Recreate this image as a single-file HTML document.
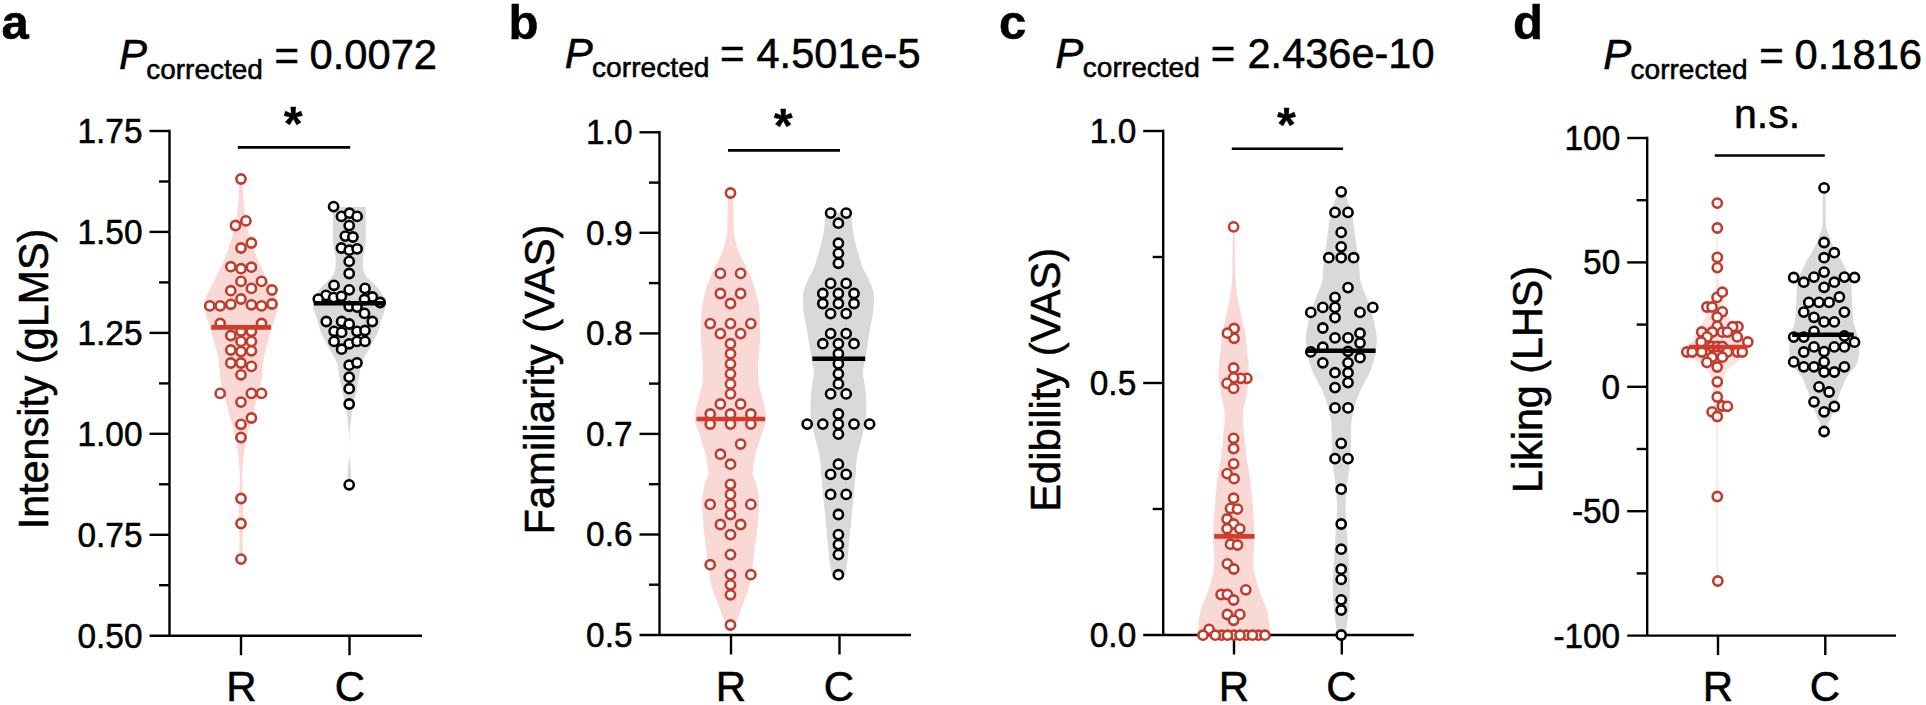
<!DOCTYPE html>
<html lang="en"><head><meta charset="utf-8"><title>Violin plots: R vs C ratings</title>
<style>html,body{margin:0;padding:0;background:#fff}body{width:1926px;height:705px;overflow:hidden}svg{display:block}text{font-family:'Liberation Sans', Arial, Helvetica, sans-serif;fill:#000;stroke:#000;stroke-width:0.55px;stroke-linejoin:round}</style></head><body>
<svg width="1926" height="705" viewBox="0 0 1926 705">
<rect width="1926" height="705" fill="#fff"/>
<g id="panel-a">
<text x="1.5" y="38.8" font-size="49" text-anchor="start" font-weight="bold" font-style="normal">a</text>
<text x="119" y="69.4" font-size="42" text-anchor="start" font-weight="normal" font-style="italic">P</text>
<text x="146.3" y="78.8" font-size="28.5" text-anchor="start" font-weight="normal" font-style="normal" textLength="116.5" lengthAdjust="spacingAndGlyphs">corrected</text>
<text x="274.5" y="70.2" font-size="42" text-anchor="start" font-weight="normal" font-style="normal">=</text>
<text x="309.5" y="69.4" font-size="42" text-anchor="start" font-weight="normal" font-style="normal" textLength="127.5" lengthAdjust="spacingAndGlyphs">0.0072</text>
<text transform="translate(47.6 379) rotate(-90)" font-size="43" text-anchor="middle" textLength="300.5" lengthAdjust="spacingAndGlyphs">Intensity (gLMS)</text>
<path d="M240.5 179 L240.1 181 L239.8 183 L239.5 185 L239.3 187 L239.2 189 L239 191 L238.9 193 L238.8 195 L238.7 197 L238.6 199 L238.4 201 L238.2 203 L238 205 L237.8 207 L237.6 209 L237.3 211 L237.1 213 L236.8 215 L236.5 217 L236.2 219 L235.8 221 L235.5 223 L235.1 225 L234.7 227 L234.2 229 L233.8 231 L233.2 233 L232.7 235 L232.1 237 L231.5 239 L230.8 241 L230.2 243 L229.5 245 L228.8 247 L228.2 249 L227.5 251 L226.8 253 L226 255 L225.3 257 L224.5 259 L223.7 261 L222.8 263 L221.9 265 L220.9 267 L219.9 269 L219 271 L218 273 L217 275 L216 277 L215 279 L214 281 L213 283 L212 285 L211 287 L210 289 L209 291 L208 293 L207 295 L206 297 L205.3 299 L204.8 301 L204.3 303 L204 305 L204 307 L204.3 309 L204.8 311 L205.4 313 L206 315 L206.6 317 L207.2 319 L207.9 321 L208.7 323 L209.4 325 L210 327 L210.6 329 L211.2 331 L211.8 333 L212.3 335 L212.9 337 L213.4 339 L214 341 L214.5 343 L215 345 L215.5 347 L216 349 L216.6 351 L217.1 353 L217.6 355 L218 357 L218.3 359 L218.6 361 L218.9 363 L219.1 365 L219.3 367 L219.4 369 L219.6 371 L219.7 373 L219.9 375 L220.1 377 L220.4 379 L220.7 381 L221 383 L221.4 385 L221.9 387 L222.4 389 L223 391 L223.5 393 L224 395 L224.5 397 L225 399 L225.5 401 L226.1 403 L226.6 405 L227.1 407 L227.7 409 L228.2 411 L228.8 413 L229.3 415 L229.9 417 L230.5 419 L231.1 421 L231.6 423 L232.2 425 L232.7 427 L233.3 429 L233.8 431 L234.3 433 L234.8 435 L235.3 437 L235.7 439 L236.1 441 L236.5 443 L236.8 445 L237.2 447 L237.5 449 L237.8 451 L238.1 453 L238.3 455 L238.5 457 L238.7 459 L238.9 461 L239 463 L239.2 465 L239.3 467 L239.5 469 L239.6 471 L239.7 473 L239.8 475 L239.8 477 L239.8 479 L239.8 481 L239.7 483 L239.6 485 L239.5 487 L239.4 489 L239.3 491 L239.2 493 L239.2 495 L239.1 497 L239.1 499 L239.1 501 L239 503 L239 505 L239 507 L239 509 L239 511 L238.9 513 L238.9 515 L238.9 517 L238.9 519 L238.9 521 L238.9 523 L238.9 525 L239 527 L239.1 529 L239.2 531 L239.2 533 L239.3 535 L239.4 537 L239.5 539 L239.5 541 L239.5 543 L239.4 545 L239.4 547 L239.3 549 L239.3 551 L239.2 553 L239.2 555 L239.5 557 L240.2 559 L240.5 560 L241.5 560 L241.8 559 L242.5 557 L242.8 555 L242.8 553 L242.7 551 L242.7 549 L242.6 547 L242.6 545 L242.5 543 L242.5 541 L242.5 539 L242.6 537 L242.7 535 L242.8 533 L242.8 531 L242.9 529 L243 527 L243.1 525 L243.1 523 L243.1 521 L243.1 519 L243.1 517 L243.1 515 L243.1 513 L243 511 L243 509 L243 507 L243 505 L243 503 L242.9 501 L242.9 499 L242.9 497 L242.8 495 L242.8 493 L242.7 491 L242.6 489 L242.5 487 L242.4 485 L242.3 483 L242.2 481 L242.2 479 L242.2 477 L242.2 475 L242.3 473 L242.4 471 L242.5 469 L242.7 467 L242.8 465 L243 463 L243.1 461 L243.3 459 L243.5 457 L243.7 455 L243.9 453 L244.2 451 L244.5 449 L244.8 447 L245.2 445 L245.5 443 L245.9 441 L246.3 439 L246.7 437 L247.2 435 L247.7 433 L248.2 431 L248.7 429 L249.3 427 L249.8 425 L250.4 423 L250.9 421 L251.5 419 L252.1 417 L252.7 415 L253.2 413 L253.8 411 L254.3 409 L254.9 407 L255.4 405 L255.9 403 L256.5 401 L257 399 L257.5 397 L258 395 L258.5 393 L259 391 L259.6 389 L260.1 387 L260.6 385 L261 383 L261.3 381 L261.6 379 L261.9 377 L262.1 375 L262.3 373 L262.4 371 L262.6 369 L262.7 367 L262.9 365 L263.1 363 L263.4 361 L263.7 359 L264 357 L264.4 355 L264.9 353 L265.4 351 L266 349 L266.5 347 L267 345 L267.5 343 L268 341 L268.6 339 L269.1 337 L269.7 335 L270.2 333 L270.8 331 L271.4 329 L272 327 L272.6 325 L273.3 323 L274.1 321 L274.8 319 L275.4 317 L276 315 L276.6 313 L277.2 311 L277.7 309 L278 307 L278 305 L277.7 303 L277.2 301 L276.7 299 L276 297 L275 295 L274 293 L273 291 L272 289 L271 287 L270 285 L269 283 L268 281 L267 279 L266 277 L265 275 L264 273 L263 271 L262.1 269 L261.1 267 L260.1 265 L259.2 263 L258.3 261 L257.5 259 L256.7 257 L256 255 L255.2 253 L254.5 251 L253.8 249 L253.2 247 L252.5 245 L251.8 243 L251.2 241 L250.5 239 L249.9 237 L249.3 235 L248.8 233 L248.2 231 L247.8 229 L247.3 227 L246.9 225 L246.5 223 L246.2 221 L245.8 219 L245.5 217 L245.2 215 L244.9 213 L244.7 211 L244.4 209 L244.2 207 L244 205 L243.8 203 L243.6 201 L243.4 199 L243.3 197 L243.2 195 L243.1 193 L243 191 L242.8 189 L242.7 187 L242.5 185 L242.2 183 L241.9 181 L241.5 179Z" fill="#f9d9d5"/>
<path d="M332.9 207 L332.9 209 L332.9 211 L332.9 213 L332.9 215 L332.9 217 L332.9 219 L332.9 221 L332.9 223 L332.9 225 L332.9 227 L332.9 229 L332.9 231 L332.9 233 L332.9 235 L332.9 237 L332.9 239 L332.9 241 L333 243 L333.3 245 L333.7 247 L334.1 249 L334.5 251 L334.9 253 L335.4 255 L335.7 257 L335.7 259 L335.7 261 L335.6 263 L335.6 265 L335.5 267 L335.3 269 L334.8 271 L334.1 273 L333.3 275 L332 277 L330 279 L327.8 281 L325.6 283 L323.7 285 L321.8 287 L320.1 289 L318.5 291 L317.2 293 L315.9 295 L314.8 297 L314 299 L313.7 301 L313.4 303 L313.3 305 L313.3 307 L313.6 309 L314.1 311 L314.7 313 L315.5 315 L316.3 317 L317 319 L317.7 321 L318.2 323 L318.7 325 L319.2 327 L319.7 329 L320.3 331 L321.1 333 L322.1 335 L323.1 337 L324.2 339 L325.3 341 L326.3 343 L327.4 345 L328.4 347 L329.5 349 L330.6 351 L331.8 353 L333 355 L334.3 357 L335.3 359 L336.2 361 L337 363 L337.6 365 L338.1 367 L338.4 369 L338.6 371 L338.8 373 L339.1 375 L339.4 377 L339.8 379 L340.2 381 L340.6 383 L341 385 L341.4 387 L341.9 389 L342.3 391 L342.7 393 L343.1 395 L343.5 397 L343.9 399 L344.3 401 L344.7 403 L345.1 405 L345.5 407 L345.9 409 L346.3 411 L346.7 413 L347 415 L347.3 417 L347.6 419 L347.8 421 L348 423 L348.2 425 L348.4 427 L348.6 429 L348.7 431 L348.9 433 L349 435 L349.1 437 L349.2 439 L349.2 441 L349.2 443 L349.2 445 L349.2 447 L349.2 449 L349.2 451 L349.2 453 L349.2 455 L349.1 457 L348.9 459 L348.7 461 L348.5 463 L348.3 465 L348.1 467 L347.9 469 L347.8 471 L347.6 473 L347.6 475 L347.6 477 L347.6 479 L347.6 481 L347.7 483 L347.7 485 L350.9 485 L350.9 483 L351 481 L351 479 L351 477 L351 475 L351 473 L350.8 471 L350.7 469 L350.5 467 L350.3 465 L350.1 463 L349.9 461 L349.7 459 L349.5 457 L349.4 455 L349.4 453 L349.4 451 L349.4 449 L349.4 447 L349.4 445 L349.4 443 L349.4 441 L349.4 439 L349.5 437 L349.6 435 L349.7 433 L349.9 431 L350 429 L350.2 427 L350.4 425 L350.6 423 L350.8 421 L351 419 L351.3 417 L351.6 415 L351.9 413 L352.3 411 L352.7 409 L353.1 407 L353.5 405 L353.9 403 L354.3 401 L354.7 399 L355.1 397 L355.5 395 L355.9 393 L356.3 391 L356.7 389 L357.2 387 L357.6 385 L358 383 L358.4 381 L358.8 379 L359.2 377 L359.5 375 L359.8 373 L360 371 L360.2 369 L360.5 367 L361 365 L361.6 363 L362.4 361 L363.3 359 L364.3 357 L365.6 355 L366.8 353 L368 351 L369.1 349 L370.2 347 L371.2 345 L372.3 343 L373.3 341 L374.4 339 L375.5 337 L376.5 335 L377.5 333 L378.3 331 L378.9 329 L379.4 327 L379.9 325 L380.4 323 L380.9 321 L381.6 319 L382.3 317 L383.1 315 L383.9 313 L384.5 311 L385 309 L385.3 307 L385.3 305 L385.2 303 L384.9 301 L384.6 299 L383.8 297 L382.7 295 L381.4 293 L380.1 291 L378.5 289 L376.8 287 L374.9 285 L373 283 L370.8 281 L368.6 279 L366.6 277 L365.3 275 L364.5 273 L363.8 271 L363.3 269 L363.1 267 L363 265 L363 263 L362.9 261 L362.9 259 L362.9 257 L363.2 255 L363.7 253 L364.1 251 L364.5 249 L364.9 247 L365.3 245 L365.6 243 L365.7 241 L365.7 239 L365.7 237 L365.7 235 L365.7 233 L365.7 231 L365.7 229 L365.7 227 L365.7 225 L365.7 223 L365.7 221 L365.7 219 L365.7 217 L365.7 215 L365.7 213 L365.7 211 L365.7 209 L365.7 207Z" fill="#d9d9d9"/>
<g fill="#fff" stroke="#c23b2c" stroke-width="2.6">
<circle cx="241" cy="179" r="4.6"/>
<circle cx="245.9" cy="220.9" r="4.6"/>
<circle cx="235.5" cy="225.5" r="4.6"/>
<circle cx="251.4" cy="243" r="4.6"/>
<circle cx="241" cy="248" r="4.6"/>
<circle cx="230.8" cy="266.7" r="4.6"/>
<circle cx="241" cy="268.7" r="4.6"/>
<circle cx="251.4" cy="267.2" r="4.6"/>
<circle cx="241" cy="281.4" r="4.6"/>
<circle cx="261.5" cy="281.4" r="4.6"/>
<circle cx="251.4" cy="288.4" r="4.6"/>
<circle cx="230.8" cy="290.7" r="4.6"/>
<circle cx="272" cy="290" r="4.6"/>
<circle cx="241" cy="299" r="4.6"/>
<circle cx="209.8" cy="305.9" r="4.6"/>
<circle cx="220.2" cy="305.9" r="4.6"/>
<circle cx="230.8" cy="304.3" r="4.6"/>
<circle cx="251.4" cy="304.8" r="4.6"/>
<circle cx="261.5" cy="305.9" r="4.6"/>
<circle cx="272" cy="304" r="4.6"/>
<circle cx="220.2" cy="323.5" r="4.6"/>
<circle cx="261.5" cy="323.5" r="4.6"/>
</g>
<g fill="#fff" stroke="#c23b2c" stroke-width="2.6">
<circle cx="241" cy="331" r="4.6"/>
<circle cx="251.4" cy="331.3" r="4.6"/>
<circle cx="230.8" cy="335.5" r="4.6"/>
<circle cx="241" cy="341.4" r="4.6"/>
<circle cx="251.4" cy="341.4" r="4.6"/>
<circle cx="230.8" cy="350" r="4.6"/>
<circle cx="241" cy="351.6" r="4.6"/>
<circle cx="251.4" cy="350.8" r="4.6"/>
<circle cx="230.8" cy="363" r="4.6"/>
<circle cx="241" cy="363" r="4.6"/>
<circle cx="251.4" cy="366.4" r="4.6"/>
<circle cx="241" cy="374.8" r="4.6"/>
<circle cx="220.2" cy="393.4" r="4.6"/>
<circle cx="251.4" cy="393.4" r="4.6"/>
<circle cx="261.5" cy="393.4" r="4.6"/>
<circle cx="241" cy="402.1" r="4.6"/>
<circle cx="251.4" cy="418" r="4.6"/>
<circle cx="241" cy="424.3" r="4.6"/>
<circle cx="241" cy="437.5" r="4.6"/>
<circle cx="241" cy="498.5" r="4.6"/>
<circle cx="241" cy="523.5" r="4.6"/>
<circle cx="241" cy="559.1" r="4.6"/>
</g>
<g fill="#fff" stroke="#000" stroke-width="2.6">
<circle cx="349.2" cy="306.3" r="4.6"/>
<circle cx="357" cy="307.1" r="4.6"/>
<circle cx="364.5" cy="313.4" r="4.6"/>
<circle cx="326.3" cy="321.5" r="4.6"/>
<circle cx="341.6" cy="321.5" r="4.6"/>
<circle cx="349.2" cy="324" r="4.6"/>
<circle cx="372.3" cy="321.5" r="4.6"/>
<circle cx="334.1" cy="331.3" r="4.6"/>
<circle cx="341.6" cy="332.4" r="4.6"/>
<circle cx="357" cy="331.3" r="4.6"/>
<circle cx="365" cy="330.5" r="4.6"/>
<circle cx="334.1" cy="341.4" r="4.6"/>
<circle cx="349.2" cy="343.8" r="4.6"/>
<circle cx="357" cy="341.4" r="4.6"/>
<circle cx="365" cy="341.4" r="4.6"/>
<circle cx="341.6" cy="349.2" r="4.6"/>
<circle cx="349.2" cy="365.2" r="4.6"/>
<circle cx="357" cy="362.8" r="4.6"/>
<circle cx="349.2" cy="377.2" r="4.6"/>
<circle cx="349.2" cy="388.7" r="4.6"/>
<circle cx="349.2" cy="404" r="4.6"/>
<circle cx="349.2" cy="484.8" r="4.6"/>
</g>
<g fill="#fff" stroke="#000" stroke-width="2.6">
<circle cx="333.6" cy="206.6" r="4.6"/>
<circle cx="341.5" cy="216.4" r="4.6"/>
<circle cx="349.5" cy="213.2" r="4.6"/>
<circle cx="357.1" cy="216.4" r="4.6"/>
<circle cx="349.2" cy="225.6" r="4.6"/>
<circle cx="345.3" cy="236.1" r="4.6"/>
<circle cx="352.9" cy="237" r="4.6"/>
<circle cx="341.4" cy="248" r="4.6"/>
<circle cx="349.3" cy="250.2" r="4.6"/>
<circle cx="357.1" cy="248.8" r="4.6"/>
<circle cx="349.2" cy="261.4" r="4.6"/>
<circle cx="349.2" cy="273.5" r="4.6"/>
<circle cx="334" cy="285.3" r="4.6"/>
<circle cx="349.2" cy="289.8" r="4.6"/>
<circle cx="365" cy="288.4" r="4.6"/>
<circle cx="326" cy="295.4" r="4.6"/>
<circle cx="333.6" cy="297.6" r="4.6"/>
<circle cx="341.4" cy="296.3" r="4.6"/>
<circle cx="372.4" cy="297" r="4.6"/>
<circle cx="318.3" cy="299.1" r="4.6"/>
<circle cx="364.5" cy="299.5" r="4.6"/>
<circle cx="380.2" cy="302.5" r="4.6"/>
</g>
<line x1="211.2" y1="327.4" x2="271" y2="327.4" stroke="#d63a2b" stroke-width="4.6"/>
<line x1="313.8" y1="303.2" x2="384" y2="303.2" stroke="#000" stroke-width="4.6"/>
<g stroke="#000" stroke-width="2.4" stroke-linecap="butt" fill="none">
<path d="M169.5 129.8 V635.7"/>
<path d="M149.5 635.7 H422"/>
<path d="M149.5 131 H169.5"/>
<path d="M159 181.5 H169.5"/>
<path d="M149.5 231.9 H169.5"/>
<path d="M159 282.4 H169.5"/>
<path d="M149.5 332.9 H169.5"/>
<path d="M159 383.4 H169.5"/>
<path d="M149.5 433.8 H169.5"/>
<path d="M159 484.3 H169.5"/>
<path d="M149.5 534.8 H169.5"/>
<path d="M159 585.2 H169.5"/>
<path d="M241 635.7 V655.2"/>
<path d="M349.5 635.7 V655.2"/>
</g>
<text x="142.5" y="142.9" font-size="35" text-anchor="end" font-weight="normal" font-style="normal" textLength="65" lengthAdjust="spacingAndGlyphs">1.75</text>
<text x="142.5" y="243.8" font-size="35" text-anchor="end" font-weight="normal" font-style="normal" textLength="65" lengthAdjust="spacingAndGlyphs">1.50</text>
<text x="142.5" y="344.8" font-size="35" text-anchor="end" font-weight="normal" font-style="normal" textLength="65" lengthAdjust="spacingAndGlyphs">1.25</text>
<text x="142.5" y="445.7" font-size="35" text-anchor="end" font-weight="normal" font-style="normal" textLength="65" lengthAdjust="spacingAndGlyphs">1.00</text>
<text x="142.5" y="546.7" font-size="35" text-anchor="end" font-weight="normal" font-style="normal" textLength="65" lengthAdjust="spacingAndGlyphs">0.75</text>
<text x="142.5" y="647.6" font-size="35" text-anchor="end" font-weight="normal" font-style="normal" textLength="65" lengthAdjust="spacingAndGlyphs">0.50</text>
<text x="241.5" y="701" font-size="42" text-anchor="middle" font-weight="normal" font-style="normal">R</text>
<text x="350" y="701" font-size="42" text-anchor="middle" font-weight="normal" font-style="normal">C</text>
<line x1="237.8" y1="147.4" x2="350.2" y2="147.4" stroke="#000" stroke-width="2.6"/>
<text x="293.2" y="139.5" font-size="48.5" text-anchor="middle" font-weight="bold" style="stroke-width:0.3px">*</text>
</g>
<g id="panel-b">
<text x="508.5" y="38.8" font-size="49" text-anchor="start" font-weight="bold" font-style="normal">b</text>
<text x="564.8" y="67.6" font-size="42" text-anchor="start" font-weight="normal" font-style="italic">P</text>
<text x="592" y="77" font-size="28.5" text-anchor="start" font-weight="normal" font-style="normal" textLength="117.5" lengthAdjust="spacingAndGlyphs">corrected</text>
<text x="720" y="68.4" font-size="42" text-anchor="start" font-weight="normal" font-style="normal">=</text>
<text x="756.5" y="67.6" font-size="42" text-anchor="start" font-weight="normal" font-style="normal" textLength="164" lengthAdjust="spacingAndGlyphs">4.501e-5</text>
<text transform="translate(554.2 379.6) rotate(-90)" font-size="43" text-anchor="middle" textLength="310" lengthAdjust="spacingAndGlyphs">Familiarity (VAS)</text>
<path d="M730 192 L728.9 194 L728.1 196 L727.8 198 L727.8 200 L727.7 202 L727.6 204 L727.6 206 L727.6 208 L727.5 210 L727.5 212 L727.5 214 L727.5 216 L727.4 218 L727.4 220 L727.4 222 L727.4 224 L727.4 226 L727.3 228 L727.3 230 L727.2 232 L727 234 L726.6 236 L726.2 238 L725.8 240 L725.3 242 L724.8 244 L724.2 246 L723.6 248 L722.9 250 L722.1 252 L721.3 254 L720.4 256 L719.6 258 L718.6 260 L717.6 262 L716.5 264 L715.5 266 L714.5 268 L713.5 270 L712.5 272 L711.5 274 L710.6 276 L709.7 278 L708.9 280 L708.2 282 L707.5 284 L706.9 286 L706.3 288 L705.7 290 L705.2 292 L704.7 294 L704.3 296 L703.8 298 L703.4 300 L702.9 302 L702.5 304 L702.2 306 L701.9 308 L701.6 310 L701.5 312 L701.4 314 L701.3 316 L701.2 318 L701.2 320 L701.1 322 L701.1 324 L701 326 L701 328 L700.9 330 L700.9 332 L700.9 334 L700.9 336 L700.9 338 L701 340 L701.1 342 L701.3 344 L701.4 346 L701.6 348 L701.8 350 L702 352 L702.2 354 L702.3 356 L702.5 358 L702.6 360 L702.7 362 L702.8 364 L702.8 366 L702.8 368 L702.8 370 L702.7 372 L702.7 374 L702.7 376 L702.6 378 L702.5 380 L702.4 382 L702.2 384 L701.8 386 L701.3 388 L700.8 390 L700.3 392 L699.7 394 L699.3 396 L698.7 398 L698.2 400 L697.6 402 L697 404 L696.5 406 L696 408 L695.7 410 L695.5 412 L695.4 414 L695.3 416 L695.2 418 L695.2 420 L695.3 422 L695.7 424 L696.3 426 L697 428 L697.7 430 L698.5 432 L699.2 434 L699.8 436 L700.4 438 L701.1 440 L701.7 442 L702.4 444 L703 446 L703.7 448 L704.3 450 L704.9 452 L705.4 454 L705.9 456 L706.3 458 L706.7 460 L707 462 L707.3 464 L707.6 466 L707.9 468 L708.1 470 L708.3 472 L708.3 474 L707.8 476 L706.8 478 L705.8 480 L705.3 482 L704.8 484 L704.3 486 L703.9 488 L703.5 490 L703.1 492 L702.8 494 L702.5 496 L702.3 498 L702.1 500 L702 502 L702 504 L702 506 L702.1 508 L702.2 510 L702.3 512 L702.4 514 L702.5 516 L702.7 518 L702.9 520 L703.1 522 L703.2 524 L703.4 526 L703.6 528 L703.8 530 L704 532 L704.2 534 L704.5 536 L704.7 538 L705 540 L705.3 542 L705.6 544 L705.8 546 L706.1 548 L706.4 550 L706.6 552 L706.9 554 L707.1 556 L707.4 558 L707.6 560 L707.9 562 L708.1 564 L708.4 566 L708.7 568 L708.9 570 L709.2 572 L709.5 574 L709.8 576 L710.1 578 L710.4 580 L710.7 582 L711.1 584 L711.5 586 L711.9 588 L712.5 590 L713.2 592 L714 594 L714.9 596 L715.7 598 L716.5 600 L717.2 602 L717.9 604 L718.7 606 L719.4 608 L720.1 610 L720.8 612 L721.6 614 L722.4 616 L723.1 618 L723.9 620 L724.7 622 L725.4 624 L726.2 626 L727.2 628 L728.4 630 L730 632 L731 632 L732.6 630 L733.8 628 L734.8 626 L735.6 624 L736.3 622 L737.1 620 L737.9 618 L738.6 616 L739.4 614 L740.2 612 L740.9 610 L741.6 608 L742.3 606 L743.1 604 L743.8 602 L744.5 600 L745.3 598 L746.1 596 L747 594 L747.8 592 L748.5 590 L749.1 588 L749.5 586 L749.9 584 L750.3 582 L750.6 580 L750.9 578 L751.2 576 L751.5 574 L751.8 572 L752.1 570 L752.3 568 L752.6 566 L752.9 564 L753.1 562 L753.4 560 L753.6 558 L753.9 556 L754.1 554 L754.4 552 L754.6 550 L754.9 548 L755.2 546 L755.4 544 L755.7 542 L756 540 L756.3 538 L756.5 536 L756.8 534 L757 532 L757.2 530 L757.4 528 L757.6 526 L757.8 524 L757.9 522 L758.1 520 L758.3 518 L758.5 516 L758.6 514 L758.7 512 L758.8 510 L758.9 508 L759 506 L759 504 L759 502 L758.9 500 L758.7 498 L758.5 496 L758.2 494 L757.9 492 L757.5 490 L757.1 488 L756.7 486 L756.2 484 L755.7 482 L755.2 480 L754.2 478 L753.2 476 L752.7 474 L752.7 472 L752.9 470 L753.1 468 L753.4 466 L753.7 464 L754 462 L754.3 460 L754.7 458 L755.1 456 L755.6 454 L756.1 452 L756.7 450 L757.3 448 L758 446 L758.6 444 L759.3 442 L759.9 440 L760.6 438 L761.2 436 L761.8 434 L762.5 432 L763.3 430 L764 428 L764.7 426 L765.3 424 L765.7 422 L765.8 420 L765.8 418 L765.7 416 L765.6 414 L765.5 412 L765.3 410 L765 408 L764.5 406 L764 404 L763.4 402 L762.8 400 L762.3 398 L761.7 396 L761.3 394 L760.7 392 L760.2 390 L759.7 388 L759.2 386 L758.8 384 L758.6 382 L758.5 380 L758.4 378 L758.3 376 L758.3 374 L758.3 372 L758.2 370 L758.2 368 L758.2 366 L758.2 364 L758.3 362 L758.4 360 L758.5 358 L758.7 356 L758.8 354 L759 352 L759.2 350 L759.4 348 L759.6 346 L759.7 344 L759.9 342 L760 340 L760.1 338 L760.1 336 L760.1 334 L760.1 332 L760.1 330 L760 328 L760 326 L759.9 324 L759.9 322 L759.8 320 L759.8 318 L759.7 316 L759.6 314 L759.5 312 L759.4 310 L759.1 308 L758.8 306 L758.5 304 L758.1 302 L757.6 300 L757.2 298 L756.7 296 L756.3 294 L755.8 292 L755.3 290 L754.7 288 L754.1 286 L753.5 284 L752.8 282 L752.1 280 L751.3 278 L750.4 276 L749.5 274 L748.5 272 L747.5 270 L746.5 268 L745.5 266 L744.5 264 L743.4 262 L742.4 260 L741.4 258 L740.6 256 L739.7 254 L738.9 252 L738.1 250 L737.4 248 L736.8 246 L736.2 244 L735.7 242 L735.2 240 L734.8 238 L734.4 236 L734 234 L733.8 232 L733.7 230 L733.7 228 L733.6 226 L733.6 224 L733.6 222 L733.6 220 L733.6 218 L733.5 216 L733.5 214 L733.5 212 L733.5 210 L733.4 208 L733.4 206 L733.4 204 L733.3 202 L733.2 200 L733.2 198 L732.9 196 L732.1 194 L731 192Z" fill="#f9d9d5"/>
<path d="M825.4 213 L825.3 215 L825.2 217 L825.1 219 L824.9 221 L824.7 223 L824.5 225 L824.3 227 L824.1 229 L823.8 231 L823.5 233 L823.1 235 L822.7 237 L822.3 239 L821.8 241 L821.4 243 L820.9 245 L820.4 247 L819.8 249 L819.3 251 L818.7 253 L818 255 L817.4 257 L816.8 259 L816.2 261 L815.5 263 L814.9 265 L814.2 267 L813.4 269 L812.5 271 L811.5 273 L810.4 275 L809.3 277 L808.3 279 L807.5 281 L806.7 283 L805.8 285 L805 287 L804.3 289 L803.6 291 L803.2 293 L802.9 295 L802.9 297 L802.9 299 L803 301 L803 303 L803.1 305 L803.2 307 L803.3 309 L803.5 311 L803.7 313 L804 315 L804.4 317 L804.8 319 L805.2 321 L805.6 323 L806 325 L806.4 327 L806.7 329 L807.1 331 L807.4 333 L807.8 335 L808.1 337 L808.4 339 L808.8 341 L809.1 343 L809.4 345 L809.7 347 L810 349 L810.3 351 L810.6 353 L810.9 355 L811.2 357 L811.6 359 L811.9 361 L812.3 363 L812.8 365 L813.2 367 L813.5 369 L813.7 371 L813.9 373 L813.9 375 L813.5 377 L813.1 379 L812.7 381 L812.4 383 L812.1 385 L811.8 387 L811.6 389 L811.3 391 L811.1 393 L811 395 L810.9 397 L810.8 399 L810.7 401 L810.6 403 L810.5 405 L810.5 407 L810.4 409 L810.4 411 L810.4 413 L810.5 415 L810.8 417 L811.1 419 L811.4 421 L811.7 423 L812.1 425 L812.5 427 L812.9 429 L813.4 431 L813.9 433 L814.4 435 L814.9 437 L815.4 439 L815.9 441 L816.4 443 L816.9 445 L817.4 447 L817.9 449 L818.4 451 L818.9 453 L819.4 455 L819.8 457 L820.1 459 L820.3 461 L820.4 463 L820.6 465 L820.7 467 L820.8 469 L820.9 471 L821 473 L821.2 475 L821.3 477 L821.5 479 L821.7 481 L821.9 483 L822.1 485 L822.3 487 L822.5 489 L822.7 491 L822.9 493 L823.1 495 L823.3 497 L823.5 499 L823.7 501 L823.9 503 L824.1 505 L824.3 507 L824.5 509 L824.7 511 L824.9 513 L825.1 515 L825.3 517 L825.5 519 L825.6 521 L825.8 523 L826 525 L826.2 527 L826.4 529 L826.6 531 L826.8 533 L827 535 L827.2 537 L827.4 539 L827.6 541 L827.8 543 L827.9 545 L828.1 547 L828.3 549 L828.5 551 L828.7 553 L828.9 555 L829.1 557 L829.3 559 L829.5 561 L829.7 563 L830 565 L830.2 567 L830.6 569 L831 571 L831.5 573 L832.4 575 L833.9 577 L836.2 579 L837.9 580 L838.9 580 L840.6 579 L842.9 577 L844.4 575 L845.3 573 L845.8 571 L846.2 569 L846.6 567 L846.8 565 L847.1 563 L847.3 561 L847.5 559 L847.7 557 L847.9 555 L848.1 553 L848.3 551 L848.5 549 L848.7 547 L848.9 545 L849 543 L849.2 541 L849.4 539 L849.6 537 L849.8 535 L850 533 L850.2 531 L850.4 529 L850.6 527 L850.8 525 L851 523 L851.2 521 L851.3 519 L851.5 517 L851.7 515 L851.9 513 L852.1 511 L852.3 509 L852.5 507 L852.7 505 L852.9 503 L853.1 501 L853.3 499 L853.5 497 L853.7 495 L853.9 493 L854.1 491 L854.3 489 L854.5 487 L854.7 485 L854.9 483 L855.1 481 L855.3 479 L855.5 477 L855.6 475 L855.8 473 L855.9 471 L856 469 L856.1 467 L856.2 465 L856.4 463 L856.5 461 L856.7 459 L857 457 L857.4 455 L857.9 453 L858.4 451 L858.9 449 L859.4 447 L859.9 445 L860.4 443 L860.9 441 L861.4 439 L861.9 437 L862.4 435 L862.9 433 L863.4 431 L863.9 429 L864.3 427 L864.7 425 L865.1 423 L865.4 421 L865.7 419 L866 417 L866.3 415 L866.4 413 L866.4 411 L866.4 409 L866.3 407 L866.3 405 L866.2 403 L866.1 401 L866 399 L865.9 397 L865.8 395 L865.7 393 L865.5 391 L865.2 389 L865 387 L864.7 385 L864.4 383 L864.1 381 L863.7 379 L863.3 377 L862.9 375 L862.9 373 L863.1 371 L863.3 369 L863.6 367 L864 365 L864.5 363 L864.9 361 L865.2 359 L865.6 357 L865.9 355 L866.2 353 L866.5 351 L866.8 349 L867.1 347 L867.4 345 L867.7 343 L868 341 L868.4 339 L868.7 337 L869 335 L869.4 333 L869.7 331 L870.1 329 L870.4 327 L870.8 325 L871.2 323 L871.6 321 L872 319 L872.4 317 L872.8 315 L873.1 313 L873.3 311 L873.5 309 L873.6 307 L873.7 305 L873.8 303 L873.8 301 L873.9 299 L873.9 297 L873.9 295 L873.6 293 L873.2 291 L872.5 289 L871.8 287 L871 285 L870.1 283 L869.3 281 L868.5 279 L867.5 277 L866.4 275 L865.3 273 L864.3 271 L863.4 269 L862.6 267 L861.9 265 L861.3 263 L860.6 261 L860 259 L859.4 257 L858.8 255 L858.1 253 L857.5 251 L857 249 L856.4 247 L855.9 245 L855.4 243 L855 241 L854.5 239 L854.1 237 L853.7 235 L853.3 233 L853 231 L852.7 229 L852.5 227 L852.3 225 L852.1 223 L851.9 221 L851.7 219 L851.6 217 L851.5 215 L851.4 213Z" fill="#d9d9d9"/>
<g fill="#fff" stroke="#c23b2c" stroke-width="2.6">
<circle cx="730.5" cy="193" r="4.6"/>
<circle cx="720.4" cy="273.4" r="4.6"/>
<circle cx="740.6" cy="273.4" r="4.6"/>
<circle cx="720.4" cy="293.5" r="4.6"/>
<circle cx="740.6" cy="293.5" r="4.6"/>
<circle cx="730.5" cy="303.5" r="4.6"/>
<circle cx="710.2" cy="323.6" r="4.6"/>
<circle cx="730.5" cy="323.6" r="4.6"/>
<circle cx="750.8" cy="323.6" r="4.6"/>
<circle cx="720.4" cy="333.6" r="4.6"/>
<circle cx="740.6" cy="333.6" r="4.6"/>
<circle cx="730.5" cy="343.7" r="4.6"/>
<circle cx="730.5" cy="353.7" r="4.6"/>
<circle cx="730.5" cy="363.8" r="4.6"/>
<circle cx="730.5" cy="373.8" r="4.6"/>
<circle cx="730.5" cy="383.9" r="4.6"/>
<circle cx="730.5" cy="393.9" r="4.6"/>
<circle cx="720.4" cy="404" r="4.6"/>
<circle cx="740.6" cy="404" r="4.6"/>
<circle cx="710.2" cy="414" r="4.6"/>
<circle cx="730.5" cy="414" r="4.6"/>
<circle cx="750.8" cy="414" r="4.6"/>
</g>
<g fill="#fff" stroke="#c23b2c" stroke-width="2.6">
<circle cx="710.2" cy="424.1" r="4.6"/>
<circle cx="730.5" cy="424.1" r="4.6"/>
<circle cx="750.8" cy="424.1" r="4.6"/>
<circle cx="740.6" cy="444.1" r="4.6"/>
<circle cx="720.4" cy="454.2" r="4.6"/>
<circle cx="730.5" cy="464.2" r="4.6"/>
<circle cx="730.5" cy="484.3" r="4.6"/>
<circle cx="730.5" cy="494.4" r="4.6"/>
<circle cx="710.2" cy="504.4" r="4.6"/>
<circle cx="730.5" cy="504.4" r="4.6"/>
<circle cx="750.8" cy="504.4" r="4.6"/>
<circle cx="730.5" cy="514.5" r="4.6"/>
<circle cx="720.4" cy="524.5" r="4.6"/>
<circle cx="740.6" cy="524.5" r="4.6"/>
<circle cx="730.5" cy="534.6" r="4.6"/>
<circle cx="730.5" cy="554.6" r="4.6"/>
<circle cx="710.2" cy="564.7" r="4.6"/>
<circle cx="730.5" cy="574.7" r="4.6"/>
<circle cx="750.8" cy="574.7" r="4.6"/>
<circle cx="730.5" cy="584.8" r="4.6"/>
<circle cx="730.5" cy="594.8" r="4.6"/>
<circle cx="730.5" cy="625" r="4.6"/>
</g>
<g fill="#fff" stroke="#000" stroke-width="2.6">
<circle cx="830.6" cy="213.1" r="4.6"/>
<circle cx="846.2" cy="213.1" r="4.6"/>
<circle cx="838.4" cy="223.2" r="4.6"/>
<circle cx="838.4" cy="243.2" r="4.6"/>
<circle cx="838.4" cy="253.3" r="4.6"/>
<circle cx="838.4" cy="263.3" r="4.6"/>
<circle cx="830.6" cy="283.4" r="4.6"/>
<circle cx="846.2" cy="283.4" r="4.6"/>
<circle cx="822.8" cy="293.5" r="4.6"/>
<circle cx="838.4" cy="293.5" r="4.6"/>
<circle cx="854" cy="293.5" r="4.6"/>
<circle cx="822.8" cy="303.5" r="4.6"/>
<circle cx="838.4" cy="303.5" r="4.6"/>
<circle cx="854" cy="303.5" r="4.6"/>
<circle cx="830.6" cy="313.6" r="4.6"/>
<circle cx="846.2" cy="313.6" r="4.6"/>
<circle cx="830.6" cy="333.6" r="4.6"/>
<circle cx="846.2" cy="333.6" r="4.6"/>
<circle cx="822.8" cy="343.7" r="4.6"/>
<circle cx="838.4" cy="343.7" r="4.6"/>
<circle cx="854" cy="343.7" r="4.6"/>
<circle cx="838.4" cy="353.7" r="4.6"/>
</g>
<g fill="#fff" stroke="#000" stroke-width="2.6">
<circle cx="838.4" cy="363.8" r="4.6"/>
<circle cx="838.4" cy="373.8" r="4.6"/>
<circle cx="838.4" cy="383.9" r="4.6"/>
<circle cx="830.6" cy="393.9" r="4.6"/>
<circle cx="846.2" cy="393.9" r="4.6"/>
<circle cx="838.4" cy="414" r="4.6"/>
<circle cx="807.2" cy="424.1" r="4.6"/>
<circle cx="822.8" cy="424.1" r="4.6"/>
<circle cx="838.4" cy="424.1" r="4.6"/>
<circle cx="854" cy="424.1" r="4.6"/>
<circle cx="869.6" cy="424.1" r="4.6"/>
<circle cx="838.4" cy="434.1" r="4.6"/>
<circle cx="838.4" cy="464.2" r="4.6"/>
<circle cx="830.6" cy="474.3" r="4.6"/>
<circle cx="846.2" cy="474.3" r="4.6"/>
<circle cx="830.6" cy="494.4" r="4.6"/>
<circle cx="846.2" cy="494.4" r="4.6"/>
<circle cx="838.4" cy="514.5" r="4.6"/>
<circle cx="838.4" cy="534.6" r="4.6"/>
<circle cx="838.4" cy="544.6" r="4.6"/>
<circle cx="838.4" cy="554.6" r="4.6"/>
<circle cx="838.4" cy="574.7" r="4.6"/>
</g>
<line x1="696.5" y1="419" x2="765" y2="419" stroke="#d63a2b" stroke-width="4.6"/>
<line x1="812.4" y1="358.8" x2="865.2" y2="358.8" stroke="#000" stroke-width="4.6"/>
<g stroke="#000" stroke-width="2.4" stroke-linecap="butt" fill="none">
<path d="M659.5 131.1 V635"/>
<path d="M639.5 635 H911"/>
<path d="M639.5 132.3 H659.5"/>
<path d="M649 182.6 H659.5"/>
<path d="M639.5 232.8 H659.5"/>
<path d="M649 283.1 H659.5"/>
<path d="M639.5 333.4 H659.5"/>
<path d="M649 383.6 H659.5"/>
<path d="M639.5 433.9 H659.5"/>
<path d="M649 484.2 H659.5"/>
<path d="M639.5 534.5 H659.5"/>
<path d="M649 584.7 H659.5"/>
<path d="M731 635 V654.5"/>
<path d="M839.5 635 V654.5"/>
</g>
<text x="632.5" y="144.2" font-size="35" text-anchor="end" font-weight="normal" font-style="normal" textLength="46.4" lengthAdjust="spacingAndGlyphs">1.0</text>
<text x="632.5" y="244.7" font-size="35" text-anchor="end" font-weight="normal" font-style="normal" textLength="46.4" lengthAdjust="spacingAndGlyphs">0.9</text>
<text x="632.5" y="345.3" font-size="35" text-anchor="end" font-weight="normal" font-style="normal" textLength="46.4" lengthAdjust="spacingAndGlyphs">0.8</text>
<text x="632.5" y="445.8" font-size="35" text-anchor="end" font-weight="normal" font-style="normal" textLength="46.4" lengthAdjust="spacingAndGlyphs">0.7</text>
<text x="632.5" y="546.4" font-size="35" text-anchor="end" font-weight="normal" font-style="normal" textLength="46.4" lengthAdjust="spacingAndGlyphs">0.6</text>
<text x="632.5" y="646.9" font-size="35" text-anchor="end" font-weight="normal" font-style="normal" textLength="46.4" lengthAdjust="spacingAndGlyphs">0.5</text>
<text x="731" y="701" font-size="42" text-anchor="middle" font-weight="normal" font-style="normal">R</text>
<text x="839" y="701" font-size="42" text-anchor="middle" font-weight="normal" font-style="normal">C</text>
<line x1="728" y1="150.4" x2="840" y2="150.4" stroke="#000" stroke-width="2.6"/>
<text x="783.2" y="142.3" font-size="48.5" text-anchor="middle" font-weight="bold" style="stroke-width:0.3px">*</text>
</g>
<g id="panel-c">
<text x="999" y="38.8" font-size="49" text-anchor="start" font-weight="bold" font-style="normal">c</text>
<text x="1055.2" y="67.6" font-size="42" text-anchor="start" font-weight="normal" font-style="italic">P</text>
<text x="1082.8" y="77" font-size="28.5" text-anchor="start" font-weight="normal" font-style="normal" textLength="117" lengthAdjust="spacingAndGlyphs">corrected</text>
<text x="1210.8" y="68.4" font-size="42" text-anchor="start" font-weight="normal" font-style="normal">=</text>
<text x="1247.5" y="67.6" font-size="42" text-anchor="start" font-weight="normal" font-style="normal" textLength="187" lengthAdjust="spacingAndGlyphs">2.436e-10</text>
<text transform="translate(1060 379.8) rotate(-90)" font-size="43" text-anchor="middle" textLength="264" lengthAdjust="spacingAndGlyphs">Edibility (VAS)</text>
<path d="M1233.2 227 L1233.1 229 L1233.1 231 L1233 233 L1232.9 235 L1232.9 237 L1232.8 239 L1232.8 241 L1232.7 243 L1232.7 245 L1232.7 247 L1232.7 249 L1232.6 251 L1232.6 253 L1232.6 255 L1232.6 257 L1232.6 259 L1232.6 261 L1232.5 263 L1232.5 265 L1232.5 267 L1232.4 269 L1232.4 271 L1232.3 273 L1232.2 275 L1232.1 277 L1232 279 L1231.9 281 L1231.7 283 L1231.6 285 L1231.4 287 L1231.2 289 L1230.9 291 L1230.6 293 L1230.3 295 L1230 297 L1229.7 299 L1229.3 301 L1228.9 303 L1228.4 305 L1228 307 L1227.6 309 L1227.2 311 L1226.8 313 L1226.4 315 L1225.9 317 L1225.5 319 L1225.1 321 L1224.6 323 L1224.2 325 L1223.8 327 L1223.3 329 L1223 331 L1222.6 333 L1222.3 335 L1222 337 L1221.7 339 L1221.5 341 L1221.2 343 L1221 345 L1220.7 347 L1220.5 349 L1220.3 351 L1220.1 353 L1219.9 355 L1219.7 357 L1219.5 359 L1219.3 361 L1219.1 363 L1219 365 L1218.8 367 L1218.7 369 L1218.6 371 L1218.6 373 L1218.6 375 L1218.7 377 L1218.9 379 L1219.1 381 L1219.3 383 L1219.6 385 L1219.9 387 L1220.2 389 L1220.5 391 L1220.9 393 L1221.2 395 L1221.5 397 L1221.8 399 L1222.2 401 L1222.7 403 L1223.2 405 L1223.6 407 L1224 409 L1224.4 411 L1224.6 413 L1224.8 415 L1224.8 417 L1224.7 419 L1224.6 421 L1224.5 423 L1224.3 425 L1224.1 427 L1223.9 429 L1223.7 431 L1223.5 433 L1223.3 435 L1223.1 437 L1222.9 439 L1222.8 441 L1222.6 443 L1222.4 445 L1222.2 447 L1222 449 L1221.8 451 L1221.5 453 L1221.3 455 L1221.1 457 L1220.8 459 L1220.5 461 L1220.2 463 L1219.8 465 L1219.4 467 L1219 469 L1218.6 471 L1218.3 473 L1217.9 475 L1217.7 477 L1217.4 479 L1217.2 481 L1217 483 L1216.7 485 L1216.5 487 L1216.3 489 L1216.1 491 L1215.9 493 L1215.7 495 L1215.6 497 L1215.4 499 L1215.2 501 L1215.1 503 L1214.9 505 L1214.8 507 L1214.7 509 L1214.5 511 L1214.4 513 L1214.2 515 L1214.1 517 L1213.9 519 L1213.8 521 L1213.6 523 L1213.5 525 L1213.4 527 L1213.3 529 L1213.2 531 L1213.2 533 L1213.1 535 L1213.1 537 L1213.1 539 L1213.2 541 L1213.3 543 L1213.4 545 L1213.6 547 L1213.8 549 L1213.9 551 L1214.1 553 L1214.3 555 L1214.4 557 L1214.5 559 L1214.5 561 L1214.4 563 L1214.3 565 L1214.1 567 L1213.8 569 L1213.4 571 L1213 573 L1212.6 575 L1212.1 577 L1211.7 579 L1211.2 581 L1210.7 583 L1210.1 585 L1209.5 587 L1208.8 589 L1208 591 L1207.3 593 L1206.5 595 L1205.8 597 L1205.1 599 L1204.2 601 L1203.4 603 L1202.6 605 L1201.8 607 L1201.1 609 L1200.5 611 L1200.1 613 L1199.7 615 L1199.3 617 L1198.9 619 L1198.7 621 L1198.4 623 L1198.3 625 L1198.2 627 L1198.1 629 L1198.1 631 L1198 633 L1198 635 L1198 636.5 L1269.6 636.5 L1269.6 635 L1269.6 633 L1269.5 631 L1269.5 629 L1269.4 627 L1269.3 625 L1269.2 623 L1268.9 621 L1268.7 619 L1268.3 617 L1267.9 615 L1267.5 613 L1267.1 611 L1266.5 609 L1265.8 607 L1265 605 L1264.2 603 L1263.4 601 L1262.5 599 L1261.8 597 L1261.1 595 L1260.3 593 L1259.6 591 L1258.8 589 L1258.1 587 L1257.5 585 L1256.9 583 L1256.4 581 L1255.9 579 L1255.5 577 L1255 575 L1254.6 573 L1254.2 571 L1253.8 569 L1253.5 567 L1253.3 565 L1253.2 563 L1253.1 561 L1253.1 559 L1253.2 557 L1253.3 555 L1253.5 553 L1253.7 551 L1253.8 549 L1254 547 L1254.2 545 L1254.3 543 L1254.4 541 L1254.5 539 L1254.5 537 L1254.5 535 L1254.4 533 L1254.4 531 L1254.3 529 L1254.2 527 L1254.1 525 L1254 523 L1253.8 521 L1253.7 519 L1253.5 517 L1253.4 515 L1253.2 513 L1253.1 511 L1252.9 509 L1252.8 507 L1252.7 505 L1252.5 503 L1252.4 501 L1252.2 499 L1252 497 L1251.9 495 L1251.7 493 L1251.5 491 L1251.3 489 L1251.1 487 L1250.9 485 L1250.6 483 L1250.4 481 L1250.2 479 L1249.9 477 L1249.7 475 L1249.3 473 L1249 471 L1248.6 469 L1248.2 467 L1247.8 465 L1247.4 463 L1247.1 461 L1246.8 459 L1246.5 457 L1246.3 455 L1246.1 453 L1245.8 451 L1245.6 449 L1245.4 447 L1245.2 445 L1245 443 L1244.8 441 L1244.7 439 L1244.5 437 L1244.3 435 L1244.1 433 L1243.9 431 L1243.7 429 L1243.5 427 L1243.3 425 L1243.1 423 L1243 421 L1242.9 419 L1242.8 417 L1242.8 415 L1243 413 L1243.2 411 L1243.6 409 L1244 407 L1244.4 405 L1244.9 403 L1245.4 401 L1245.8 399 L1246.1 397 L1246.4 395 L1246.7 393 L1247.1 391 L1247.4 389 L1247.7 387 L1248 385 L1248.3 383 L1248.5 381 L1248.7 379 L1248.9 377 L1249 375 L1249 373 L1249 371 L1248.9 369 L1248.8 367 L1248.6 365 L1248.5 363 L1248.3 361 L1248.1 359 L1247.9 357 L1247.7 355 L1247.5 353 L1247.3 351 L1247.1 349 L1246.9 347 L1246.6 345 L1246.4 343 L1246.1 341 L1245.9 339 L1245.6 337 L1245.3 335 L1245 333 L1244.6 331 L1244.3 329 L1243.8 327 L1243.4 325 L1243 323 L1242.5 321 L1242.1 319 L1241.7 317 L1241.2 315 L1240.8 313 L1240.4 311 L1240 309 L1239.6 307 L1239.2 305 L1238.7 303 L1238.3 301 L1237.9 299 L1237.6 297 L1237.3 295 L1237 293 L1236.7 291 L1236.4 289 L1236.2 287 L1236 285 L1235.9 283 L1235.7 281 L1235.6 279 L1235.5 277 L1235.4 275 L1235.3 273 L1235.2 271 L1235.2 269 L1235.1 267 L1235.1 265 L1235.1 263 L1235 261 L1235 259 L1235 257 L1235 255 L1235 253 L1235 251 L1234.9 249 L1234.9 247 L1234.9 245 L1234.9 243 L1234.8 241 L1234.8 239 L1234.7 237 L1234.7 235 L1234.6 233 L1234.5 231 L1234.5 229 L1234.4 227Z" fill="#f9d9d5"/>
<path d="M1340.8 192 L1338.2 194 L1336.7 196 L1335.9 198 L1335.2 200 L1334.4 202 L1333.6 204 L1332.8 206 L1332.2 208 L1331.7 210 L1331.2 212 L1330.8 214 L1330.4 216 L1330 218 L1329.7 220 L1329.4 222 L1329.1 224 L1328.8 226 L1328.5 228 L1328.2 230 L1328 232 L1327.7 234 L1327.4 236 L1327.2 238 L1326.9 240 L1326.6 242 L1326.3 244 L1326 246 L1325.7 248 L1325.5 250 L1325.2 252 L1324.9 254 L1324.6 256 L1324.4 258 L1324.1 260 L1323.9 262 L1323.6 264 L1323.4 266 L1323.2 268 L1323.1 270 L1322.9 272 L1322.8 274 L1322.7 276 L1322.6 278 L1322.3 280 L1321.9 282 L1321.4 284 L1320.7 286 L1320 288 L1319.1 290 L1318.3 292 L1317.5 294 L1316.6 296 L1315.8 298 L1315.1 300 L1314.5 302 L1313.8 304 L1313.2 306 L1312.5 308 L1311.9 310 L1311.2 312 L1310.6 314 L1310 316 L1309.4 318 L1308.9 320 L1308.4 322 L1308 324 L1307.6 326 L1307.3 328 L1306.9 330 L1306.5 332 L1306.2 334 L1306 336 L1305.9 338 L1305.8 340 L1305.8 342 L1306 344 L1306.2 346 L1306.4 348 L1306.8 350 L1307.1 352 L1307.4 354 L1307.8 356 L1308.2 358 L1308.7 360 L1309.2 362 L1309.8 364 L1310.5 366 L1311.2 368 L1311.9 370 L1312.7 372 L1313.6 374 L1314.7 376 L1315.8 378 L1316.8 380 L1317.8 382 L1318.8 384 L1319.9 386 L1320.9 388 L1321.9 390 L1322.8 392 L1323.7 394 L1324.5 396 L1325.2 398 L1325.9 400 L1326.6 402 L1327.2 404 L1327.8 406 L1328.4 408 L1328.9 410 L1329.3 412 L1329.7 414 L1330.1 416 L1330.5 418 L1330.8 420 L1331.1 422 L1331.3 424 L1331.5 426 L1331.5 428 L1331.6 430 L1331.6 432 L1331.7 434 L1331.7 436 L1331.7 438 L1331.7 440 L1331.7 442 L1331.8 444 L1331.8 446 L1331.8 448 L1331.9 450 L1331.9 452 L1332 454 L1332.1 456 L1332.2 458 L1332.4 460 L1332.6 462 L1332.7 464 L1332.9 466 L1333.1 468 L1333.3 470 L1333.6 472 L1333.9 474 L1334.3 476 L1334.6 478 L1334.9 480 L1335.2 482 L1335.4 484 L1335.6 486 L1335.8 488 L1336 490 L1336.2 492 L1336.4 494 L1336.5 496 L1336.7 498 L1336.8 500 L1336.9 502 L1337 504 L1337 506 L1337 508 L1337 510 L1336.9 512 L1336.8 514 L1336.7 516 L1336.6 518 L1336.5 520 L1336.3 522 L1336.2 524 L1336.1 526 L1335.9 528 L1335.8 530 L1335.7 532 L1335.6 534 L1335.4 536 L1335.3 538 L1335.2 540 L1335 542 L1334.9 544 L1334.8 546 L1334.7 548 L1334.5 550 L1334.4 552 L1334.3 554 L1334.2 556 L1334.1 558 L1334 560 L1333.9 562 L1333.8 564 L1333.7 566 L1333.6 568 L1333.5 570 L1333.4 572 L1333.2 574 L1333 576 L1332.8 578 L1332.7 580 L1332.7 582 L1332.7 584 L1332.7 586 L1332.8 588 L1332.8 590 L1332.9 592 L1333 594 L1333.1 596 L1333.1 598 L1333.2 600 L1333.3 602 L1333.4 604 L1333.6 606 L1333.7 608 L1333.9 610 L1334.1 612 L1334.4 614 L1334.6 616 L1334.9 618 L1335.1 620 L1335.4 622 L1335.6 624 L1335.9 626 L1336.2 628 L1336.5 630 L1336.7 632 L1336.9 634 L1337.1 636 L1345.5 636 L1345.7 634 L1345.9 632 L1346.1 630 L1346.4 628 L1346.7 626 L1347 624 L1347.2 622 L1347.5 620 L1347.7 618 L1348 616 L1348.2 614 L1348.5 612 L1348.7 610 L1348.9 608 L1349 606 L1349.2 604 L1349.3 602 L1349.4 600 L1349.5 598 L1349.5 596 L1349.6 594 L1349.7 592 L1349.8 590 L1349.8 588 L1349.9 586 L1349.9 584 L1349.9 582 L1349.9 580 L1349.8 578 L1349.6 576 L1349.4 574 L1349.2 572 L1349.1 570 L1349 568 L1348.9 566 L1348.8 564 L1348.7 562 L1348.6 560 L1348.5 558 L1348.4 556 L1348.3 554 L1348.2 552 L1348.1 550 L1347.9 548 L1347.8 546 L1347.7 544 L1347.6 542 L1347.4 540 L1347.3 538 L1347.2 536 L1347 534 L1346.9 532 L1346.8 530 L1346.7 528 L1346.5 526 L1346.4 524 L1346.3 522 L1346.1 520 L1346 518 L1345.9 516 L1345.8 514 L1345.7 512 L1345.6 510 L1345.6 508 L1345.6 506 L1345.6 504 L1345.7 502 L1345.8 500 L1345.9 498 L1346.1 496 L1346.2 494 L1346.4 492 L1346.6 490 L1346.8 488 L1347 486 L1347.2 484 L1347.4 482 L1347.7 480 L1348 478 L1348.3 476 L1348.7 474 L1349 472 L1349.3 470 L1349.5 468 L1349.7 466 L1349.9 464 L1350 462 L1350.2 460 L1350.4 458 L1350.5 456 L1350.6 454 L1350.7 452 L1350.7 450 L1350.8 448 L1350.8 446 L1350.8 444 L1350.9 442 L1350.9 440 L1350.9 438 L1350.9 436 L1350.9 434 L1351 432 L1351 430 L1351.1 428 L1351.1 426 L1351.3 424 L1351.5 422 L1351.8 420 L1352.1 418 L1352.5 416 L1352.9 414 L1353.3 412 L1353.7 410 L1354.2 408 L1354.8 406 L1355.4 404 L1356 402 L1356.7 400 L1357.4 398 L1358.1 396 L1358.9 394 L1359.8 392 L1360.7 390 L1361.7 388 L1362.7 386 L1363.8 384 L1364.8 382 L1365.8 380 L1366.8 378 L1367.9 376 L1369 374 L1369.9 372 L1370.7 370 L1371.4 368 L1372.1 366 L1372.8 364 L1373.4 362 L1373.9 360 L1374.4 358 L1374.8 356 L1375.2 354 L1375.5 352 L1375.8 350 L1376.2 348 L1376.4 346 L1376.6 344 L1376.8 342 L1376.8 340 L1376.7 338 L1376.6 336 L1376.4 334 L1376.1 332 L1375.7 330 L1375.3 328 L1375 326 L1374.6 324 L1374.2 322 L1373.7 320 L1373.2 318 L1372.6 316 L1372 314 L1371.4 312 L1370.7 310 L1370.1 308 L1369.4 306 L1368.8 304 L1368.1 302 L1367.5 300 L1366.8 298 L1366 296 L1365.1 294 L1364.3 292 L1363.5 290 L1362.6 288 L1361.9 286 L1361.2 284 L1360.7 282 L1360.3 280 L1360 278 L1359.9 276 L1359.8 274 L1359.7 272 L1359.5 270 L1359.4 268 L1359.2 266 L1359 264 L1358.7 262 L1358.5 260 L1358.2 258 L1358 256 L1357.7 254 L1357.4 252 L1357.1 250 L1356.9 248 L1356.6 246 L1356.3 244 L1356 242 L1355.7 240 L1355.4 238 L1355.2 236 L1354.9 234 L1354.6 232 L1354.4 230 L1354.1 228 L1353.8 226 L1353.5 224 L1353.2 222 L1352.9 220 L1352.6 218 L1352.2 216 L1351.8 214 L1351.4 212 L1350.9 210 L1350.4 208 L1349.8 206 L1349 204 L1348.2 202 L1347.4 200 L1346.7 198 L1345.9 196 L1344.4 194 L1341.8 192Z" fill="#d9d9d9"/>
<g stroke="#000" stroke-width="2.4" stroke-linecap="butt" fill="none">
<path d="M1163.2 129.8 V635"/>
<path d="M1143.2 635 H1413.8"/>
<path d="M1143.2 131 H1163.2"/>
<path d="M1152.7 257 H1163.2"/>
<path d="M1143.2 383 H1163.2"/>
<path d="M1152.7 509 H1163.2"/>
<path d="M1234 635 V654.5"/>
<path d="M1341.8 635 V654.5"/>
</g>
<text x="1136.2" y="142.9" font-size="35" text-anchor="end" font-weight="normal" font-style="normal" textLength="46.4" lengthAdjust="spacingAndGlyphs">1.0</text>
<text x="1136.2" y="394.9" font-size="35" text-anchor="end" font-weight="normal" font-style="normal" textLength="46.4" lengthAdjust="spacingAndGlyphs">0.5</text>
<text x="1136.2" y="646.9" font-size="35" text-anchor="end" font-weight="normal" font-style="normal" textLength="46.4" lengthAdjust="spacingAndGlyphs">0.0</text>
<g fill="#fff" stroke="#c23b2c" stroke-width="2.6">
<circle cx="1233.6" cy="226.9" r="4.6"/>
<circle cx="1234.1" cy="328.5" r="4.6"/>
<circle cx="1234.1" cy="338.3" r="4.6"/>
<circle cx="1227.4" cy="333.2" r="4.6"/>
<circle cx="1233.6" cy="368" r="4.6"/>
<circle cx="1246.9" cy="378.3" r="4.6"/>
<circle cx="1240.6" cy="378.3" r="4.6"/>
<circle cx="1233.6" cy="377.8" r="4.6"/>
<circle cx="1227.1" cy="383.4" r="4.6"/>
<circle cx="1233.6" cy="388.4" r="4.6"/>
<circle cx="1233.6" cy="438.3" r="4.6"/>
<circle cx="1233.6" cy="448.5" r="4.6"/>
<circle cx="1233.6" cy="463.8" r="4.6"/>
<circle cx="1227.1" cy="473.6" r="4.6"/>
<circle cx="1234.1" cy="478.7" r="4.6"/>
<circle cx="1233.6" cy="498.2" r="4.6"/>
<circle cx="1230.5" cy="508.4" r="4.6"/>
<circle cx="1237.5" cy="509.1" r="4.6"/>
<circle cx="1227.1" cy="519" r="4.6"/>
<circle cx="1233.6" cy="524" r="4.6"/>
<circle cx="1227.1" cy="528.8" r="4.6"/>
<circle cx="1239.8" cy="528.8" r="4.6"/>
</g>
<g fill="#fff" stroke="#c23b2c" stroke-width="2.6">
<circle cx="1230.5" cy="544.2" r="4.6"/>
<circle cx="1237.5" cy="545" r="4.6"/>
<circle cx="1227.4" cy="563.8" r="4.6"/>
<circle cx="1233.8" cy="569" r="4.6"/>
<circle cx="1245.8" cy="589.8" r="4.6"/>
<circle cx="1221.1" cy="594.5" r="4.6"/>
<circle cx="1227.4" cy="594.5" r="4.6"/>
<circle cx="1233.6" cy="600" r="4.6"/>
<circle cx="1227.4" cy="614.5" r="4.6"/>
<circle cx="1239.8" cy="614.4" r="4.6"/>
<circle cx="1233.6" cy="620.3" r="4.6"/>
<circle cx="1209.1" cy="629.3" r="4.6"/>
<circle cx="1221.6" cy="635.2" r="4.6"/>
<circle cx="1234" cy="635.2" r="4.6"/>
<circle cx="1246.2" cy="635.2" r="4.6"/>
<circle cx="1258.7" cy="635.2" r="4.6"/>
<circle cx="1203" cy="635.2" r="4.6"/>
<circle cx="1215.3" cy="635.2" r="4.6"/>
<circle cx="1227.5" cy="635.2" r="4.6"/>
<circle cx="1240" cy="635.2" r="4.6"/>
<circle cx="1252.4" cy="635.2" r="4.6"/>
<circle cx="1265" cy="635.2" r="4.6"/>
</g>
<g fill="#fff" stroke="#000" stroke-width="2.6">
<circle cx="1341.2" cy="191.8" r="4.6"/>
<circle cx="1335" cy="212.4" r="4.6"/>
<circle cx="1348" cy="212.4" r="4.6"/>
<circle cx="1341.2" cy="232.4" r="4.6"/>
<circle cx="1341.2" cy="246.8" r="4.6"/>
<circle cx="1328.8" cy="257.7" r="4.6"/>
<circle cx="1341.2" cy="257.7" r="4.6"/>
<circle cx="1353.7" cy="257.7" r="4.6"/>
<circle cx="1348" cy="287.6" r="4.6"/>
<circle cx="1335" cy="297.3" r="4.6"/>
<circle cx="1322.8" cy="307.4" r="4.6"/>
<circle cx="1335" cy="307.4" r="4.6"/>
<circle cx="1372.8" cy="307.4" r="4.6"/>
<circle cx="1310.8" cy="312.4" r="4.6"/>
<circle cx="1360" cy="312.4" r="4.6"/>
<circle cx="1335" cy="317.6" r="4.6"/>
<circle cx="1322.8" cy="328" r="4.6"/>
<circle cx="1360" cy="333.2" r="4.6"/>
<circle cx="1335" cy="337.9" r="4.6"/>
<circle cx="1348" cy="337.9" r="4.6"/>
<circle cx="1360" cy="343" r="4.6"/>
<circle cx="1322.8" cy="347.2" r="4.6"/>
<circle cx="1310.8" cy="351.9" r="4.6"/>
<circle cx="1348" cy="351.3" r="4.6"/>
</g>
<g fill="#fff" stroke="#000" stroke-width="2.6">
<circle cx="1360" cy="357.7" r="4.6"/>
<circle cx="1322.8" cy="362.8" r="4.6"/>
<circle cx="1348" cy="362.8" r="4.6"/>
<circle cx="1335" cy="372.7" r="4.6"/>
<circle cx="1348" cy="372.7" r="4.6"/>
<circle cx="1348" cy="382.6" r="4.6"/>
<circle cx="1335" cy="387.6" r="4.6"/>
<circle cx="1335" cy="407.9" r="4.6"/>
<circle cx="1348" cy="407.9" r="4.6"/>
<circle cx="1341.2" cy="443.3" r="4.6"/>
<circle cx="1335" cy="458.6" r="4.6"/>
<circle cx="1348" cy="458.6" r="4.6"/>
<circle cx="1341.2" cy="489.2" r="4.6"/>
<circle cx="1341.2" cy="524" r="4.6"/>
<circle cx="1341.2" cy="549.2" r="4.6"/>
<circle cx="1341.2" cy="569.2" r="4.6"/>
<circle cx="1341.2" cy="579.4" r="4.6"/>
<circle cx="1341.2" cy="599.8" r="4.6"/>
<circle cx="1341.2" cy="610" r="4.6"/>
<circle cx="1341.2" cy="635" r="4.6"/>
</g>
<line x1="1214.2" y1="536.4" x2="1254.5" y2="536.4" stroke="#d63a2b" stroke-width="4.6"/>
<line x1="1306.2" y1="350.7" x2="1375.6" y2="350.7" stroke="#000" stroke-width="4.6"/>
<text x="1234" y="701" font-size="42" text-anchor="middle" font-weight="normal" font-style="normal">R</text>
<text x="1341.5" y="701" font-size="42" text-anchor="middle" font-weight="normal" font-style="normal">C</text>
<line x1="1231.8" y1="148.8" x2="1343" y2="148.8" stroke="#000" stroke-width="2.6"/>
<text x="1286.4" y="140.8" font-size="48.5" text-anchor="middle" font-weight="bold" style="stroke-width:0.3px">*</text>
</g>
<g id="panel-d">
<text x="1513" y="38.8" font-size="49" text-anchor="start" font-weight="bold" font-style="normal">d</text>
<text x="1603.2" y="69.4" font-size="42" text-anchor="start" font-weight="normal" font-style="italic">P</text>
<text x="1630.5" y="78.8" font-size="28.5" text-anchor="start" font-weight="normal" font-style="normal" textLength="117" lengthAdjust="spacingAndGlyphs">corrected</text>
<text x="1759.3" y="70.2" font-size="42" text-anchor="start" font-weight="normal" font-style="normal">=</text>
<text x="1794.5" y="69.4" font-size="42" text-anchor="start" font-weight="normal" font-style="normal" textLength="127.5" lengthAdjust="spacingAndGlyphs">0.1816</text>
<text transform="translate(1541.6 379.5) rotate(-90)" font-size="43" text-anchor="middle" textLength="227" lengthAdjust="spacingAndGlyphs">Liking (LHS)</text>
<path d="M1823.7 188 L1823.2 190 L1822.9 192 L1822.8 194 L1822.8 196 L1822.7 198 L1822.7 200 L1822.7 202 L1822.7 204 L1822.7 206 L1822.7 208 L1822.7 210 L1822.7 212 L1822.7 214 L1822.7 216 L1822.7 218 L1822.6 220 L1822.6 222 L1822.6 224 L1822.4 226 L1822 228 L1821.4 230 L1820.7 232 L1820 234 L1819.3 236 L1818.6 238 L1817.8 240 L1817 242 L1816.1 244 L1815.2 246 L1814.2 248 L1813.2 250 L1812 252 L1810.9 254 L1809.6 256 L1808.4 258 L1807.2 260 L1806.1 262 L1805 264 L1804 266 L1803.1 268 L1802.2 270 L1801.3 272 L1800.3 274 L1799.1 276 L1798 278 L1797.3 280 L1797.1 282 L1797 284 L1796.9 286 L1796.8 288 L1796.7 290 L1796.7 292 L1796.6 294 L1796.5 296 L1796.4 298 L1796.3 300 L1796.2 302 L1796.1 304 L1796.1 306 L1796 308 L1795.9 310 L1795.8 312 L1795.6 314 L1795.5 316 L1795.3 318 L1795.2 320 L1794.8 322 L1794.4 324 L1793.8 326 L1793.2 328 L1792.6 330 L1792.1 332 L1791.6 334 L1791.2 336 L1790.8 338 L1790.5 340 L1790.1 342 L1789.8 344 L1789.5 346 L1789.3 348 L1789.2 350 L1789.2 352 L1789.3 354 L1789.6 356 L1789.9 358 L1790.2 360 L1790.8 362 L1791.8 364 L1792.9 366 L1794.2 368 L1796 370 L1797.9 372 L1799.7 374 L1801 376 L1802.2 378 L1803.2 380 L1804.1 382 L1805 384 L1805.8 386 L1806.6 388 L1807.4 390 L1808.2 392 L1808.9 394 L1809.6 396 L1810.2 398 L1810.9 400 L1811.5 402 L1812.2 404 L1812.9 406 L1813.6 408 L1814.4 410 L1815.2 412 L1816 414 L1816.8 416 L1817.6 418 L1818.5 420 L1819.3 422 L1820.2 424 L1821.2 426 L1822.1 428 L1823 430 L1823.8 432 L1824.6 432 L1825.4 430 L1826.3 428 L1827.2 426 L1828.2 424 L1829.1 422 L1829.9 420 L1830.8 418 L1831.6 416 L1832.4 414 L1833.2 412 L1834 410 L1834.8 408 L1835.5 406 L1836.2 404 L1836.9 402 L1837.5 400 L1838.2 398 L1838.8 396 L1839.5 394 L1840.2 392 L1841 390 L1841.8 388 L1842.6 386 L1843.4 384 L1844.3 382 L1845.2 380 L1846.2 378 L1847.4 376 L1848.7 374 L1850.5 372 L1852.4 370 L1854.2 368 L1855.5 366 L1856.6 364 L1857.6 362 L1858.2 360 L1858.5 358 L1858.8 356 L1859.1 354 L1859.2 352 L1859.2 350 L1859.1 348 L1858.9 346 L1858.6 344 L1858.3 342 L1857.9 340 L1857.6 338 L1857.2 336 L1856.8 334 L1856.3 332 L1855.8 330 L1855.2 328 L1854.6 326 L1854 324 L1853.6 322 L1853.2 320 L1853.1 318 L1852.9 316 L1852.8 314 L1852.6 312 L1852.5 310 L1852.4 308 L1852.3 306 L1852.3 304 L1852.2 302 L1852.1 300 L1852 298 L1851.9 296 L1851.8 294 L1851.7 292 L1851.7 290 L1851.6 288 L1851.5 286 L1851.4 284 L1851.3 282 L1851.1 280 L1850.4 278 L1849.3 276 L1848.1 274 L1847.1 272 L1846.2 270 L1845.3 268 L1844.4 266 L1843.4 264 L1842.3 262 L1841.2 260 L1840 258 L1838.8 256 L1837.5 254 L1836.4 252 L1835.2 250 L1834.2 248 L1833.2 246 L1832.3 244 L1831.4 242 L1830.6 240 L1829.8 238 L1829.1 236 L1828.4 234 L1827.7 232 L1827 230 L1826.4 228 L1826 226 L1825.8 224 L1825.8 222 L1825.8 220 L1825.7 218 L1825.7 216 L1825.7 214 L1825.7 212 L1825.7 210 L1825.7 208 L1825.7 206 L1825.7 204 L1825.7 202 L1825.7 200 L1825.7 198 L1825.6 196 L1825.6 194 L1825.5 192 L1825.2 190 L1824.7 188Z" fill="#d9d9d9"/>
<path d="M1716.9 203 L1716.9 205 L1716.9 207 L1716.9 209 L1716.8 211 L1716.8 213 L1716.8 215 L1716.8 217 L1716.8 219 L1716.8 221 L1716.7 223 L1716.7 225 L1716.7 227 L1716.7 229 L1716.7 231 L1716.7 233 L1716.7 235 L1716.7 237 L1716.6 239 L1716.6 241 L1716.6 243 L1716.6 245 L1716.6 247 L1716.6 249 L1716.6 251 L1716.6 253 L1716.6 255 L1716.5 257 L1716.5 259 L1716.5 261 L1716.5 263 L1716.5 265 L1716.4 267 L1716.4 269 L1716.4 271 L1716.3 273 L1716.3 275 L1716.2 277 L1716.1 279 L1716 281 L1716 283 L1715.8 285 L1715.6 287 L1715.2 289 L1714.7 291 L1714.1 293 L1713.6 295 L1713 297 L1712.4 299 L1711.8 301 L1711.1 303 L1710.4 305 L1709.7 307 L1708.9 309 L1708.1 311 L1707.2 313 L1706.3 315 L1705.3 317 L1704.3 319 L1703.3 321 L1702.1 323 L1700.9 325 L1699.6 327 L1698.4 329 L1697.2 331 L1696.1 333 L1695 335 L1693.9 337 L1692.9 339 L1691.7 341 L1690.3 343 L1689 345 L1688 347 L1687.7 349 L1687.4 351 L1687.3 353 L1687.6 355 L1689.8 357 L1692.9 359 L1695.7 361 L1698.7 363 L1701.6 365 L1703.9 367 L1705.9 369 L1707.6 371 L1708.8 373 L1709.7 375 L1710.5 377 L1711.1 379 L1711.6 381 L1711.9 383 L1712.2 385 L1712.4 387 L1712.6 389 L1712.8 391 L1713 393 L1713.1 395 L1713.2 397 L1713.4 399 L1713.5 401 L1713.6 403 L1713.7 405 L1713.8 407 L1713.9 409 L1714 411 L1714.2 413 L1714.6 415 L1715.1 417 L1715.5 419 L1715.9 421 L1716.2 423 L1716.5 425 L1716.5 427 L1716.5 429 L1716.5 431 L1716.5 433 L1716.5 435 L1716.5 437 L1716.5 439 L1716.5 441 L1716.6 443 L1716.6 445 L1716.6 447 L1716.6 449 L1716.6 451 L1716.6 453 L1716.6 455 L1716.6 457 L1716.6 459 L1716.6 461 L1716.6 463 L1716.6 465 L1716.6 467 L1716.6 469 L1716.6 471 L1716.6 473 L1716.6 475 L1716.6 477 L1716.6 479 L1716.6 481 L1716.6 483 L1716.6 485 L1716.6 487 L1716.6 489 L1716.6 491 L1716.6 493 L1716.6 495 L1716.6 497 L1716.6 499 L1716.6 501 L1716.6 503 L1716.6 505 L1716.6 507 L1716.6 509 L1716.6 511 L1716.6 513 L1716.6 515 L1716.6 517 L1716.6 519 L1716.6 521 L1716.6 523 L1716.6 525 L1716.6 527 L1716.6 529 L1716.6 531 L1716.6 533 L1716.6 535 L1716.6 537 L1716.6 539 L1716.6 541 L1716.6 543 L1716.6 545 L1716.6 547 L1716.6 549 L1716.6 551 L1716.6 553 L1716.6 555 L1716.6 557 L1716.6 559 L1716.6 561 L1716.6 563 L1716.6 565 L1716.7 567 L1716.7 569 L1716.7 571 L1716.7 573 L1716.8 575 L1716.8 577 L1716.9 579 L1716.9 581 L1717.7 581 L1717.7 579 L1717.8 577 L1717.8 575 L1717.9 573 L1717.9 571 L1717.9 569 L1717.9 567 L1718 565 L1718 563 L1718 561 L1718 559 L1718 557 L1718 555 L1718 553 L1718 551 L1718 549 L1718 547 L1718 545 L1718 543 L1718 541 L1718 539 L1718 537 L1718 535 L1718 533 L1718 531 L1718 529 L1718 527 L1718 525 L1718 523 L1718 521 L1718 519 L1718 517 L1718 515 L1718 513 L1718 511 L1718 509 L1718 507 L1718 505 L1718 503 L1718 501 L1718 499 L1718 497 L1718 495 L1718 493 L1718 491 L1718 489 L1718 487 L1718 485 L1718 483 L1718 481 L1718 479 L1718 477 L1718 475 L1718 473 L1718 471 L1718 469 L1718 467 L1718 465 L1718 463 L1718 461 L1718 459 L1718 457 L1718 455 L1718 453 L1718 451 L1718 449 L1718 447 L1718 445 L1718 443 L1718.1 441 L1718.1 439 L1718.1 437 L1718.1 435 L1718.1 433 L1718.1 431 L1718.1 429 L1718.1 427 L1718.1 425 L1718.4 423 L1718.7 421 L1719.1 419 L1719.5 417 L1720 415 L1720.4 413 L1720.6 411 L1720.7 409 L1720.8 407 L1720.9 405 L1721 403 L1721.1 401 L1721.2 399 L1721.4 397 L1721.5 395 L1721.6 393 L1721.8 391 L1722 389 L1722.2 387 L1722.4 385 L1722.7 383 L1723 381 L1723.5 379 L1724.1 377 L1724.9 375 L1725.8 373 L1727 371 L1728.7 369 L1730.7 367 L1733 365 L1735.9 363 L1738.9 361 L1741.7 359 L1744.8 357 L1747 355 L1747.3 353 L1747.2 351 L1746.9 349 L1746.6 347 L1745.6 345 L1744.3 343 L1742.9 341 L1741.7 339 L1740.7 337 L1739.6 335 L1738.5 333 L1737.4 331 L1736.2 329 L1735 327 L1733.7 325 L1732.5 323 L1731.3 321 L1730.3 319 L1729.3 317 L1728.3 315 L1727.4 313 L1726.5 311 L1725.7 309 L1724.9 307 L1724.2 305 L1723.5 303 L1722.8 301 L1722.2 299 L1721.6 297 L1721 295 L1720.5 293 L1719.9 291 L1719.4 289 L1719 287 L1718.8 285 L1718.6 283 L1718.6 281 L1718.5 279 L1718.4 277 L1718.3 275 L1718.3 273 L1718.2 271 L1718.2 269 L1718.2 267 L1718.1 265 L1718.1 263 L1718.1 261 L1718.1 259 L1718.1 257 L1718 255 L1718 253 L1718 251 L1718 249 L1718 247 L1718 245 L1718 243 L1718 241 L1718 239 L1717.9 237 L1717.9 235 L1717.9 233 L1717.9 231 L1717.9 229 L1717.9 227 L1717.9 225 L1717.9 223 L1717.8 221 L1717.8 219 L1717.8 217 L1717.8 215 L1717.8 213 L1717.8 211 L1717.7 209 L1717.7 207 L1717.7 205 L1717.7 203Z" fill="#fbe5e2"/>
<g fill="#fff" stroke="#c23b2c" stroke-width="2.6">
<circle cx="1717.3" cy="203.1" r="4.6"/>
<circle cx="1717.3" cy="228" r="4.6"/>
<circle cx="1717.3" cy="257.4" r="4.6"/>
<circle cx="1717.3" cy="267.6" r="4.6"/>
<circle cx="1717" cy="297.4" r="4.6"/>
<circle cx="1722.3" cy="292.2" r="4.6"/>
<circle cx="1706.9" cy="307" r="4.6"/>
<circle cx="1712" cy="307" r="4.6"/>
<circle cx="1722.3" cy="311.8" r="4.6"/>
<circle cx="1717.2" cy="317.1" r="4.6"/>
<circle cx="1717.2" cy="326.3" r="4.6"/>
<circle cx="1738" cy="326.7" r="4.6"/>
<circle cx="1732.6" cy="326.7" r="4.6"/>
<circle cx="1701.7" cy="332" r="4.6"/>
<circle cx="1712.3" cy="332" r="4.6"/>
<circle cx="1722.3" cy="332.2" r="4.6"/>
<circle cx="1727.4" cy="332.1" r="4.6"/>
<circle cx="1707.1" cy="336.9" r="4.6"/>
<circle cx="1737.2" cy="336.9" r="4.6"/>
<circle cx="1701.2" cy="342" r="4.6"/>
<circle cx="1747.8" cy="342" r="4.6"/>
<circle cx="1712" cy="346.5" r="4.6"/>
<circle cx="1717.2" cy="346.5" r="4.6"/>
<circle cx="1722.3" cy="346.5" r="4.6"/>
</g>
<g fill="#fff" stroke="#c23b2c" stroke-width="2.6">
<circle cx="1686.8" cy="352" r="4.6"/>
<circle cx="1692.2" cy="352" r="4.6"/>
<circle cx="1701.8" cy="352" r="4.6"/>
<circle cx="1727.4" cy="352" r="4.6"/>
<circle cx="1737.4" cy="352" r="4.6"/>
<circle cx="1742.3" cy="352" r="4.6"/>
<circle cx="1712" cy="357.2" r="4.6"/>
<circle cx="1722.3" cy="357.2" r="4.6"/>
<circle cx="1706.9" cy="362.4" r="4.6"/>
<circle cx="1717.2" cy="367" r="4.6"/>
<circle cx="1717.3" cy="381.8" r="4.6"/>
<circle cx="1717.3" cy="397" r="4.6"/>
<circle cx="1722.4" cy="406" r="4.6"/>
<circle cx="1727.4" cy="406.3" r="4.6"/>
<circle cx="1712.1" cy="411.8" r="4.6"/>
<circle cx="1717.3" cy="416.5" r="4.6"/>
<circle cx="1717.3" cy="496.5" r="4.6"/>
<circle cx="1717.8" cy="581" r="4.6"/>
</g>
<g fill="#fff" stroke="#000" stroke-width="2.6">
<circle cx="1824.1" cy="187.9" r="4.6"/>
<circle cx="1824.1" cy="242.5" r="4.6"/>
<circle cx="1834.3" cy="252.7" r="4.6"/>
<circle cx="1824.1" cy="257.7" r="4.6"/>
<circle cx="1824.1" cy="272.1" r="4.6"/>
<circle cx="1793.7" cy="277.5" r="4.6"/>
<circle cx="1814" cy="277.1" r="4.6"/>
<circle cx="1844.4" cy="277.1" r="4.6"/>
<circle cx="1854.5" cy="277.5" r="4.6"/>
<circle cx="1803.8" cy="282.2" r="4.6"/>
<circle cx="1834.3" cy="282.2" r="4.6"/>
<circle cx="1824.1" cy="287.3" r="4.6"/>
<circle cx="1839.4" cy="297" r="4.6"/>
<circle cx="1808.8" cy="302.4" r="4.6"/>
<circle cx="1819" cy="302.4" r="4.6"/>
<circle cx="1829.1" cy="302.4" r="4.6"/>
<circle cx="1803.8" cy="312.1" r="4.6"/>
<circle cx="1844.4" cy="312.1" r="4.6"/>
<circle cx="1814" cy="317.3" r="4.6"/>
<circle cx="1824.1" cy="321.9" r="4.6"/>
<circle cx="1834.3" cy="321.9" r="4.6"/>
<circle cx="1814" cy="331.3" r="4.6"/>
</g>
<g fill="#fff" stroke="#000" stroke-width="2.6">
<circle cx="1793.7" cy="337.1" r="4.6"/>
<circle cx="1803.8" cy="337.1" r="4.6"/>
<circle cx="1844.4" cy="336" r="4.6"/>
<circle cx="1854.5" cy="342.2" r="4.6"/>
<circle cx="1814" cy="346.9" r="4.6"/>
<circle cx="1834.3" cy="346.9" r="4.6"/>
<circle cx="1844.4" cy="346.9" r="4.6"/>
<circle cx="1803.8" cy="352" r="4.6"/>
<circle cx="1824.1" cy="351.6" r="4.6"/>
<circle cx="1793.7" cy="361.9" r="4.6"/>
<circle cx="1824.1" cy="361.9" r="4.6"/>
<circle cx="1803.8" cy="366.8" r="4.6"/>
<circle cx="1814" cy="366.8" r="4.6"/>
<circle cx="1844.4" cy="366.8" r="4.6"/>
<circle cx="1824.1" cy="372" r="4.6"/>
<circle cx="1834.3" cy="372" r="4.6"/>
<circle cx="1819" cy="386.8" r="4.6"/>
<circle cx="1829.1" cy="392" r="4.6"/>
<circle cx="1814" cy="401.8" r="4.6"/>
<circle cx="1834.3" cy="406.5" r="4.6"/>
<circle cx="1824.1" cy="411.8" r="4.6"/>
<circle cx="1824.1" cy="431.5" r="4.6"/>
</g>
<line x1="1689" y1="347" x2="1747.2" y2="347" stroke="#d63a2b" stroke-width="4.6"/>
<line x1="1792.2" y1="334.7" x2="1853.8" y2="334.7" stroke="#000" stroke-width="4.6"/>
<g stroke="#000" stroke-width="2.4" stroke-linecap="butt" fill="none">
<path d="M1647.2 136.8 V635.6"/>
<path d="M1627.2 635.6 H1896"/>
<path d="M1627.2 138 H1647.2"/>
<path d="M1636.7 200.2 H1647.2"/>
<path d="M1627.2 262.4 H1647.2"/>
<path d="M1636.7 324.6 H1647.2"/>
<path d="M1627.2 386.8 H1647.2"/>
<path d="M1636.7 449 H1647.2"/>
<path d="M1627.2 511.2 H1647.2"/>
<path d="M1636.7 573.4 H1647.2"/>
<path d="M1718 635.6 V655.1"/>
<path d="M1825.3 635.6 V655.1"/>
</g>
<text x="1620.2" y="149.9" font-size="35" text-anchor="end" font-weight="normal" font-style="normal" textLength="55.7" lengthAdjust="spacingAndGlyphs">100</text>
<text x="1620.2" y="274.3" font-size="35" text-anchor="end" font-weight="normal" font-style="normal" textLength="37.1" lengthAdjust="spacingAndGlyphs">50</text>
<text x="1620.2" y="398.7" font-size="35" text-anchor="end" font-weight="normal" font-style="normal" textLength="18.6" lengthAdjust="spacingAndGlyphs">0</text>
<text x="1620.2" y="523.1" font-size="35" text-anchor="end" font-weight="normal" font-style="normal" textLength="48.3" lengthAdjust="spacingAndGlyphs">-50</text>
<text x="1620.2" y="647.5" font-size="35" text-anchor="end" font-weight="normal" font-style="normal" textLength="66.8" lengthAdjust="spacingAndGlyphs">-100</text>
<text x="1718" y="701" font-size="42" text-anchor="middle" font-weight="normal" font-style="normal">R</text>
<text x="1825" y="701" font-size="42" text-anchor="middle" font-weight="normal" font-style="normal">C</text>
<line x1="1714.8" y1="155.5" x2="1824.8" y2="155.5" stroke="#000" stroke-width="2.6"/>
<text x="1767" y="127.6" font-size="41" text-anchor="middle" font-weight="normal" font-style="normal">n.s.</text>
</g>
</svg></body></html>
